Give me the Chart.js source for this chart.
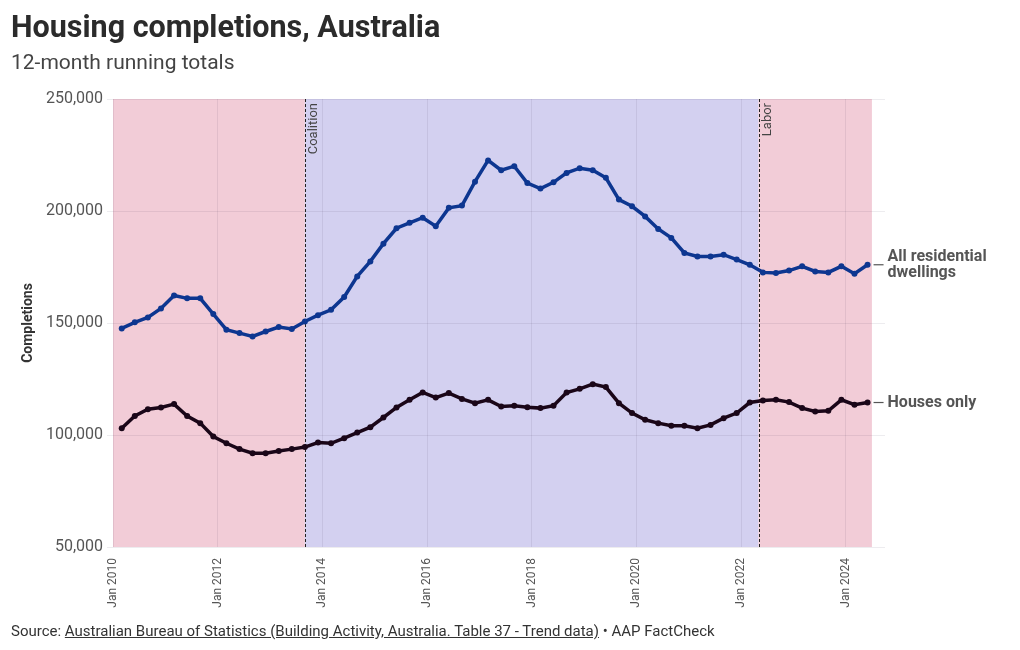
<!DOCTYPE html>
<html>
<head>
<meta charset="utf-8">
<script src="https://cdn.jsdelivr.net/npm/chart.js@4.4.1/dist/chart.umd.min.js"></script>
<style>
  body { margin: 0; background: #fff; font-family: Roboto, "Noto Sans", sans-serif; }
  #wrap { position: relative; width: 1020px; height: 650px; overflow: hidden; }
  #chart { position: absolute; left: 0; top: 0; }
  .title { position: absolute; left: 11px; top: 9px; margin: 0; font-size: 30.5px; line-height: 36px; font-weight: 700; color: #2b2b2b; }
  .subtitle { position: absolute; left: 11px; top: 49px; margin: 0; font-size: 21px; line-height: 26px; color: #444; }
  .source { position: absolute; left: 11px; top: 621px; font-size: 15px; line-height: 20px; color: #333; }
  .source a { color: #333; text-decoration: underline; }
</style>
</head>
<body>
<div id="wrap">
  <canvas id="chart" width="1020" height="650"></canvas>
  <div class="title">Housing completions, Australia</div>
  <div class="subtitle">12-month running totals</div>
  <div class="source">Source: <a>Australian Bureau of Statistics (Building Activity, Australia. Table 37 - Trend data)</a> &bull; AAP FactCheck</div>
</div>
<script>
// quarterly periods (12-month running totals)
const quarters = [
  'Mar 2010', 'Jun 2010', 'Sep 2010', 'Dec 2010',
  'Mar 2011', 'Jun 2011', 'Sep 2011', 'Dec 2011',
  'Mar 2012', 'Jun 2012', 'Sep 2012', 'Dec 2012',
  'Mar 2013', 'Jun 2013', 'Sep 2013', 'Dec 2013',
  'Mar 2014', 'Jun 2014', 'Sep 2014', 'Dec 2014',
  'Mar 2015', 'Jun 2015', 'Sep 2015', 'Dec 2015',
  'Mar 2016', 'Jun 2016', 'Sep 2016', 'Dec 2016',
  'Mar 2017', 'Jun 2017', 'Sep 2017', 'Dec 2017',
  'Mar 2018', 'Jun 2018', 'Sep 2018', 'Dec 2018',
  'Mar 2019', 'Jun 2019', 'Sep 2019', 'Dec 2019',
  'Mar 2020', 'Jun 2020', 'Sep 2020', 'Dec 2020',
  'Mar 2021', 'Jun 2021', 'Sep 2021', 'Dec 2021',
  'Mar 2022', 'Jun 2022', 'Sep 2022', 'Dec 2022',
  'Mar 2023', 'Jun 2023', 'Sep 2023', 'Dec 2023',
  'Mar 2024', 'Jun 2024'
];

const allDwellings = [
  147600, 150300, 152500, 156500, 162300, 161000, 161000, 154000,
  147000, 145500, 144000, 146200, 148200, 147300, 150700, 153500,
  155900, 161600, 170800, 177500, 185400, 192300, 194700, 197000,
  193200, 201400, 202400, 213100, 222600, 218200, 220000, 212500,
  210000, 212800, 217000, 219100, 218200, 214800, 205100, 202100,
  197600, 192000, 188000, 181300, 179700, 179700, 180500, 178300,
  176000, 172600, 172300, 173400, 175300, 173000, 172600, 175300,
  172000, 176000
];

const housesOnly = [
  103000, 108500, 111500, 112300, 113800, 108500, 105300, 99300,
  96300, 93700, 91900, 91900, 92900, 93700, 94600, 96600,
  96300, 98600, 101100, 103500, 107800, 112300, 115700, 119000,
  116700, 118700, 116100, 114200, 115700, 112700, 113100, 112400,
  112000, 113100, 119000, 120600, 122700, 121400, 114200, 109800,
  106800, 105300, 104100, 104100, 103000, 104500, 107500, 109800,
  114500, 115400, 115700, 114700, 112000, 110500, 110800, 115700,
  113500, 114500
];

const tickLabels = ['Jan 2010', 'Jan 2012', 'Jan 2014', 'Jan 2016', 'Jan 2018', 'Jan 2020', 'Jan 2022', 'Jan 2024'];
const yTicks = [50000, 100000, 150000, 200000, 250000];

// governments: start dates of each term
const govNames = ['Labor', 'Coalition', 'Labor'];
const govStarts = ['Jan 2010', 'Sep 2013', 'May 2022'];
const govEnd = 'Jul 2024';
const axisEnd = 'Oct 2024';

const MONTHS = ['Jan','Feb','Mar','Apr','May','Jun','Jul','Aug','Sep','Oct','Nov','Dec'];
//months since Jan 2010
function toMonth(s) {
  const [m, y] = s.split(' ');
  return (parseInt(y) - 2010) * 12 + MONTHS.indexOf(m);
}

const govColors = { Labor: '#f2ccd7', Coalition: '#d3d0f0' };

const shadePlugin = {
  id: 'shade',
  beforeDraw(chart) {
    const { ctx, chartArea: a, scales: { x } } = chart;
    ctx.save();
    govStarts.forEach((s, i) => {
      const x0 = x.getPixelForValue(toMonth(s));
      const x1 = x.getPixelForValue(toMonth(i + 1 < govStarts.length ? govStarts[i + 1] : govEnd));
      ctx.fillStyle = govColors[govNames[i]];
      ctx.fillRect(x0, a.top, x1 - x0, a.bottom - a.top);
    });
    ctx.restore();
  },
  beforeDatasetsDraw(chart) {
    const { ctx, chartArea: a, scales: { x } } = chart;
    ctx.save();
    govStarts.forEach((s, i) => {
      if (i === 0) return;
      const px = Math.round(x.getPixelForValue(toMonth(s))) + 0.5;
      ctx.strokeStyle = '#222';
      ctx.lineWidth = 1;
      ctx.setLineDash([3, 2]);
      ctx.beginPath();
      ctx.moveTo(px, a.top);
      ctx.lineTo(px, a.bottom);
      ctx.stroke();
      //rotated label
      ctx.setLineDash([]);
      ctx.translate(px + 8, a.top + 4);
      ctx.rotate(-Math.PI / 2);
      ctx.fillStyle = '#444';
      ctx.font = '13px Roboto, sans-serif';
      ctx.textAlign = 'right';
      ctx.textBaseline = 'middle';
      ctx.fillText(govNames[i], 0, 0);
      ctx.setTransform(1, 0, 0, 1, 0, 0);
    });
    ctx.restore();
  },
  afterDraw(chart) {
    const { ctx } = chart;
    const labels = [['All residential', 'dwellings'], ['Houses only']];
    ctx.save();
    ctx.font = 'bold 16px Roboto, sans-serif';
    ctx.fillStyle = '#555';
    ctx.strokeStyle = '#555';
    ctx.lineWidth = 1.2;
    ctx.textBaseline = 'middle';
    chart.data.datasets.forEach((ds, i) => {
      const pts = chart.getDatasetMeta(i).data;
      const p = pts[pts.length - 1];
      ctx.beginPath();
      ctx.moveTo(p.x + 6, p.y);
      ctx.lineTo(p.x + 16, p.y);
      ctx.stroke();
      const lines = labels[i];
      lines.forEach((t, j) => {
        ctx.fillText(t, p.x + 20, p.y + (j - (lines.length - 1) / 2) * 16);
      });
    });
    ctx.restore();
  }
};

const gridColor = 'rgba(60, 40, 80, 0.09)';

new Chart(document.getElementById('chart'), {
  type: 'line',
  data: {
    datasets: [
      {
        label: 'All residential dwellings',
        data: quarters.map((q, i) => ({ x: toMonth(q), y: allDwellings[i] })),
        borderColor: '#0d3690',
        backgroundColor: '#0d3690',
        borderWidth: 3.5,
        pointRadius: 3,
        pointBorderWidth: 0,
        tension: 0
      },
      {
        label: 'Houses only',
        data: quarters.map((q, i) => ({ x: toMonth(q), y: housesOnly[i] })),
        borderColor: '#1a0618',
        backgroundColor: '#1a0618',
        borderWidth: 3.5,
        pointRadius: 3,
        pointBorderWidth: 0,
        tension: 0
      }
    ]
  },
  options: {
    responsive: false,
    animation: false,
    layout: { padding: { top: 99, right: 135, left: 0, bottom: 0 } },
    plugins: { legend: { display: false }, tooltip: { enabled: false } },
    scales: {
      x: {
        type: 'linear',
        min: 0,
        max: toMonth(axisEnd),
        afterBuildTicks: s => { s.ticks = tickLabels.map(t => ({ value: toMonth(t) })); },
        afterFit: s => { s.height = 103; },
        ticks: {
          autoSkip: false,
          maxRotation: 90,
          minRotation: 90,
          padding: 11,
          color: '#555',
          font: { size: 12, family: 'Roboto' },
          callback: v => tickLabels.find(t => toMonth(t) === v) || ''
        },
        grid: { color: gridColor, drawTicks: false },
        border: { display: false }
      },
      y: {
        min: 50000,
        max: 250000,
        afterBuildTicks: s => { s.ticks = yTicks.map(v => ({ value: v })); },
        afterFit: s => { s.width = 113; },
        ticks: {
          padding: 4,
          color: '#555',
          font: { size: 16, family: 'Roboto' },
          callback: v => v.toLocaleString('en-US')
        },
        grid: { color: gridColor, tickLength: 6 },
        border: { display: false },
        title: {
          display: true,
          text: 'Completions',
          color: '#333',
          font: { size: 14, weight: 'bold', family: 'Roboto' },
          padding: { top: 20, bottom: 0 }
        }
      }
    }
  },
  plugins: [shadePlugin]
});
</script>
</body>
</html>
